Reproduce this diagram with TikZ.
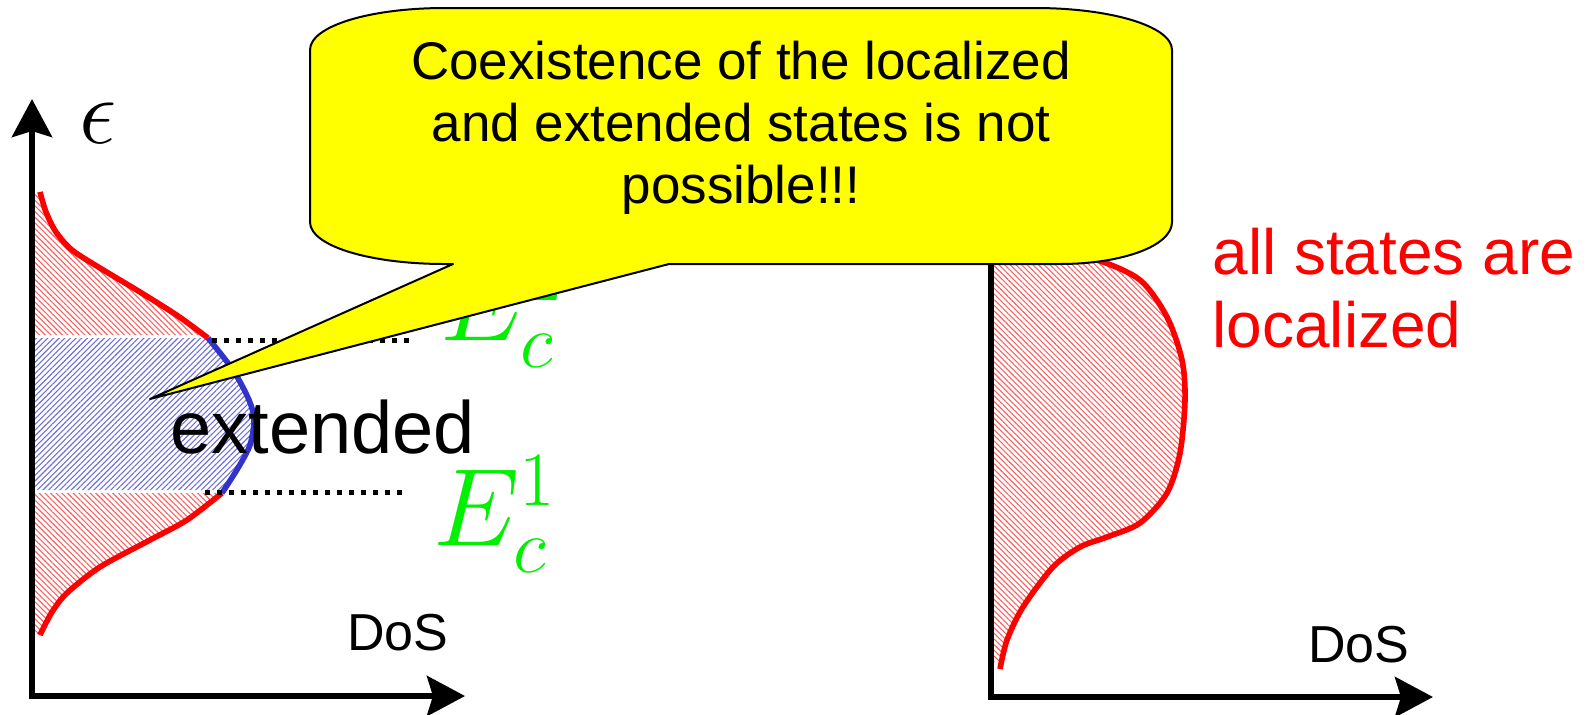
\RequirePackage{fix-cm}
\documentclass[tikz,border=0pt]{standalone}
\usepackage{fontspec}
\newfontfamily\arialf{Liberation Sans}
\usetikzlibrary{arrows.meta,patterns.meta}
\definecolor{myred}{RGB}{255,0,0}
\definecolor{myblue}{RGB}{51,51,204}
\definecolor{hatchblue}{RGB}{110,110,220}
\definecolor{hatchred}{RGB}{255,95,95}
\definecolor{mygreen}{RGB}{0,240,0}
\definecolor{myyellow}{RGB}{255,255,0}
\begin{document}
\begin{tikzpicture}[x=0.5pt,y=-0.5pt,
  axisline/.style={line width=3pt,{Stealth[length=19pt,width=20pt,inset=3pt]}-{Stealth[length=19pt,width=20pt,inset=3pt]}},
  redhatch/.style={pattern={Lines[angle=-45,distance=2pt,line width=0.55pt]},pattern color=hatchred},
  bluehatch/.style={pattern={Lines[angle=45,distance=2pt,line width=0.55pt]},pattern color=hatchblue},
  redcurve/.style={draw=myred,line width=2.8pt},
  bluecurve/.style={draw=myblue,line width=2.8pt},
  dotline/.style={line width=2.5pt,dash pattern=on 2.5pt off 3.5pt},
  greenlab/.style={anchor=base west,inner sep=0pt,text=mygreen,font=\fontsize{55}{60}\selectfont},
  sanslab/.style={anchor=base west,inner sep=0pt,font=\arialf\fontsize{26}{31}\selectfont},
  bubble/.style={fill=myyellow,draw=black,line width=1pt,line join=round}
]
\useasboundingbox (0,0) rectangle (1589,714);

% ---------- left plot: hatched areas ----------
\fill[redhatch] (34,192) -- plot[smooth] coordinates {(40,192) (46,212) (56,232) (72,250) (100,268) (140,292) (178,316) (206,335)} -- (34,335) -- cycle;
\fill[bluehatch] (34,338) -- (209,338) -- plot[smooth] coordinates {(209,338) (233,370) (249,400) (254,420) (250,445) (238,468) (222,490)} -- (34,490) -- cycle;
\fill[redhatch] (34,493) -- plot[smooth] coordinates {(221,493) (187,520) (150,540) (100,567) (67,593) (52,612) (40,635)} -- (34,635) -- cycle;

% curves
\draw[redcurve] plot[smooth] coordinates {(40,192) (46,212) (56,232) (72,250) (100,268) (140,292) (178,316) (208,338)};
\draw[bluecurve] plot[smooth] coordinates {(208,338) (233,370) (249,400) (254,420) (250,445) (238,468) (222,493)};
\draw[redcurve] plot[smooth] coordinates {(222,493) (187,520) (150,540) (100,567) (67,593) (52,612) (40,635)};

% axes
\coordinate (yL) at (32,99);
\coordinate (oL) at (32,696);
\coordinate (xL) at (465,696);
\draw[axisline] (yL) -- (oL) -- (xL);

% dotted levels
\coordinate (d2a) at (212,340);
\coordinate (d2b) at (410,340);
\coordinate (d1a) at (205,492);
\coordinate (d1b) at (402,492);
\draw[dotline] (d2a) -- (d2b);
\draw[dotline] (d1a) -- (d1b);

% labels
\node[inner sep=0pt,font=\fontsize{47}{50}\selectfont] (eps) at (98,123) {$\epsilon$};
\node[greenlab] (ec2) at (440,340) {$E_c^2$};
\node[greenlab] (ec1) at (433,545) {$E_c^1$};
\node[anchor=base west,inner sep=0pt,font=\arialf\fontsize{37}{40}\selectfont] (ext) at (170,453) {extended};
\node[sanslab] (dosl) at (347,650) {DoS};

% ---------- right plot ----------
\fill[redhatch] (994,250) -- plot[smooth] coordinates {(1050,252) (1097,260) (1140,280) (1167,317) (1182,360) (1185,400) (1180,453) (1167,493) (1140,523) (1107,537) (1080,547) (1053,567) (1023,607) (1007,640) (1000,662)} -- (994,662) -- cycle;
\draw[redcurve] plot[smooth] coordinates {(1050,252) (1097,260) (1140,280) (1167,317) (1182,360) (1185,400) (1180,453) (1167,493) (1140,523) (1107,537) (1080,547) (1053,567) (1023,607) (1007,640) (1000,669)};

\coordinate (yR) at (991,99);
\coordinate (oR) at (991,697);
\coordinate (xR) at (1433,697);
\draw[axisline] (yR) -- (oR) -- (xR);

\node[sanslab] (dosr) at (1308,662) {DoS};
\node[anchor=north west,align=left,inner sep=0pt,text=myred,font=\arialf\fontsize{32}{36.5}\selectfont] (loc) at (1212,228) {all states are\\localized};

% ---------- callout bubble ----------
\coordinate (tip) at (150,399);
\draw[bubble] (310,50) -- (310,222) .. controls (310,246) and (370,264) .. (445,264) -- (453,264) -- (tip) -- (669,264) -- (1060,264) .. controls (1122,264) and (1172,246) .. (1172,222) -- (1172,50) .. controls (1172,26) and (1110,8) .. (1035,8) -- (445,8) .. controls (370,8) and (310,26) .. (310,50) -- cycle;
\node[align=center,inner sep=0pt,font=\arialf\fontsize{26.5}{31}\selectfont] (msg) at (741,128) {Coexistence of the localized\\and extended states is not\\possible!!!};
\end{tikzpicture}
\end{document}
